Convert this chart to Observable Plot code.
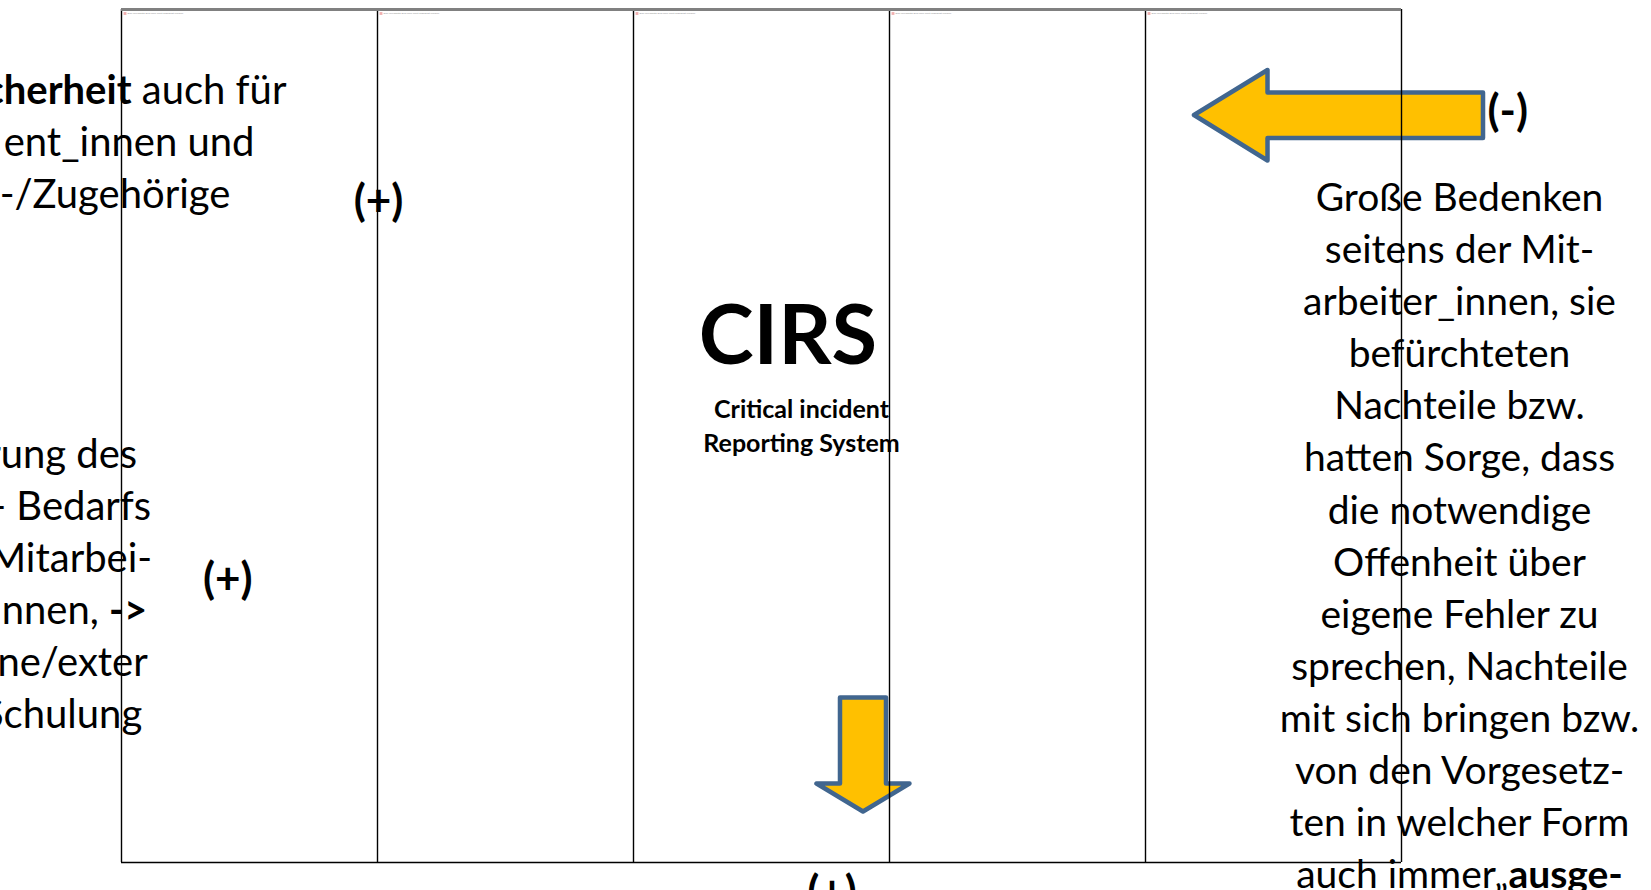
<!DOCTYPE html>
<html>
<head>
<meta charset="utf-8">
<script src="https://cdn.jsdelivr.net/npm/d3@7"></script>
<script src="https://cdn.jsdelivr.net/npm/@observablehq/plot@0.6"></script>
<style>
  html, body { margin: 0; padding: 0; background: #fff; overflow: hidden; }
  #chart svg { display: block; }
</style>
</head>
<body>
<div id="chart"></div>
<script>
// ---- data ----
const columnEdges = [0, 1, 2, 3, 4, 5];
const placeholderText = "Das verknüpfte Bild kann nicht angezeigt werden.";

const leftTopLines = ["**cherheit** auch für", "ent_innen und", "n-/Zugehörige"];
const leftTopX = [0.6445, 0.5195, 0.4254];
const leftTopY = [81.8, 133.5, 185.2];

const leftMidLines = ["rung des", "- Bedarfs", "Mitarbei-", "innen, **->**", "rne/exter", "Schulung"];
const leftMidX = [0.0613, 0.1160, 0.1199, 0.1004, 0.1027, 0.0809];
const leftMidY = [445.7, 497.6, 549.5, 601.4, 653.3, 705.2];

const rightLines = [
  "Große Bedenken", "seitens der Mit-", "arbeiter_innen, sie", "befürchteten",
  "Nachteile bzw.", "hatten Sorge, dass", "die notwendige", "Offenheit über",
  "eigene Fehler zu", "sprechen, Nachteile", "mit sich bringen bzw.",
  "von den Vorgesetz-", "ten in welcher Form", "auch immer„**ausge-**"
];
const rightX = 5.2266;
const rightY = [189, 241.1, 293.2, 345.3, 397.4, 449.5, 501.6, 553.7, 605.8, 657.9, 710, 762.1, 814.2, 866.3];

const signLabels = ["(+)", "(+)", "(+)", "(-)"];
const signX = [1.0039, 0.4152, 2.7754, 5.415];
const signY = [192, 570, 883, 102.6];

const titleText = ["CIRS"];
const titleX = [2.6031];
const titleY = [327.8];
const subtitleLines = ["Critical incident", "Reporting System"];
const subtitleX = [2.6563, 2.6563];
const subtitleY = [400.5, 434];

// block arrows (outline vertices)
const leftArrowX = [4.1895, 4.4766, 4.4766, 5.3184, 5.3184, 4.4766, 4.4766, 4.1895];
const leftArrowY = [105.5, 60.5, 83, 83, 128.5, 128.5, 151, 105.5];
const downArrowX = [2.8066, 2.9863, 2.9863, 3.0781, 2.8965, 2.7148, 2.8066, 2.8066];
const downArrowY = [688, 688, 774, 774, 802, 774, 774, 688];

// ---- build tables ----
const mk = (labels, xs, ys) => labels.map((t, i) => ({t, x: Array.isArray(xs) ? xs[i] : xs, y: ys[i]}));
const leftTop = mk(leftTopLines, leftTopX, leftTopY);
const leftMid = mk(leftMidLines, leftMidX, leftMidY);
const right = mk(rightLines, rightX, rightY);
const signs = mk(signLabels, signX, signY);
const title = mk(titleText, titleX, titleY);
const subtitle = mk(subtitleLines, subtitleX, subtitleY);
const leftArrow = leftArrowX.map((x, i) => ({x, y: leftArrowY[i]}));
const downArrow = downArrowX.map((x, i) => ({x, y: downArrowY[i]}));
const placeholders = columnEdges.slice(0, 5).map(c => ({x: c, t: placeholderText}));

const FONT = "Lato, 'Open Sans', sans-serif";
const BODY = 40;
const arrowFill = "#FFC000", arrowStroke = "#41668F";

const plot = Plot.plot({
  width: 1651,
  height: 890,
  marginLeft: 121,
  marginRight: 250,
  marginTop: 9,
  marginBottom: 28,
  style: {background: "#fff", fontFamily: FONT, color: "#000"},
  x: {domain: [0, 5], axis: null},
  y: {domain: [0, 853], reverse: true, axis: null},
  marks: [
    // arrows
    Plot.line(leftArrow, {x: "x", y: "y", fill: arrowFill, stroke: arrowStroke, strokeWidth: 4.5, strokeLinejoin: "round", curve: "linear"}),
    Plot.line(downArrow, {x: "x", y: "y", fill: arrowFill, stroke: arrowStroke, strokeWidth: 4.5, strokeLinejoin: "round", curve: "linear"}),
    // texts
    Plot.text(leftTop, {x: "x", y: "y", text: "t", textAnchor: "end", fontSize: BODY, fill: "#000"}),
    Plot.text(leftMid, {x: "x", y: "y", text: "t", textAnchor: "end", fontSize: BODY, fill: "#000"}),
    Plot.text(right, {x: "x", y: "y", text: "t", textAnchor: "middle", fontSize: 39, fill: "#000"}),
    Plot.text(signs, {x: "x", y: "y", text: "t", textAnchor: "middle", fontSize: 44, fontWeight: "bold", fill: "#000"}),
    Plot.text(title, {x: "x", y: "y", text: "t", textAnchor: "middle", fontSize: 83, fontWeight: "bold", fill: "#000"}),
    Plot.text(subtitle, {x: "x", y: "y", text: "t", textAnchor: "middle", fontSize: 25, fontWeight: "bold", fill: "#000"}),
    // broken image placeholders at the top of each column
    Plot.dot(placeholders, {x: "x", y: 4, symbol: "square", r: 1.6, fill: "#f0b0b0", dx: 3.5}),
    Plot.text(placeholders, {x: "x", y: 3.5, text: "t", textAnchor: "start", fontSize: 2.6, fill: "#9a9a9a", dx: 6}),
    // frame and column rules
    Plot.ruleX(columnEdges, {stroke: "#000", strokeWidth: 1.4}),
    Plot.ruleY([853], {x1: 0, x2: 5, stroke: "#000", strokeWidth: 1.4}),
    Plot.ruleY([0], {x1: 0, x2: 5, stroke: "#808080", strokeWidth: 3})
  ]
});

// rich text: **bold** segments
d3.select(plot).selectAll("text").each(function () {
  const s = this.textContent;
  if (!s.includes("**")) return;
  const parts = s.split("**");
  this.textContent = "";
  parts.forEach((p, i) => {
    if (!p) return;
    const ts = document.createElementNS("http://www.w3.org/2000/svg", "tspan");
    ts.textContent = p;
    if (i % 2 === 1) ts.setAttribute("font-weight", "bold");
    this.appendChild(ts);
  });
});

document.getElementById("chart").appendChild(plot);
</script>
</body>
</html>
